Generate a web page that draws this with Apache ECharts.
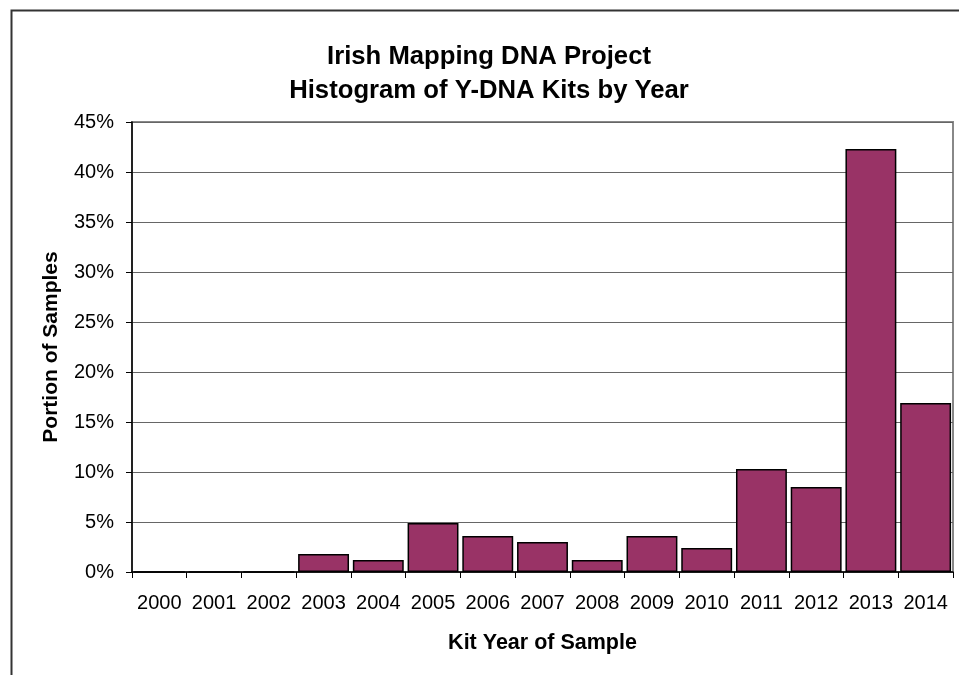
<!DOCTYPE html>
<html>
<head>
<meta charset="utf-8">
<script src="https://cdn.jsdelivr.net/npm/echarts@6/dist/echarts.min.js"></script>
<style>
  html, body { margin: 0; padding: 0; background: #fff; }
  #chart { width: 959px; height: 675px; }
</style>
</head>
<body>
<div id="chart"></div>
<script>
// Y-DNA kits per year, as a share of all samples (%)
const years = ['2000', '2001', '2002', '2003', '2004', '2005', '2006', '2007',
               '2008', '2009', '2010', '2011', '2012', '2013', '2014'];
const shares = [0, 0, 0, 1.8, 1.2, 4.9, 3.6, 3.0, 1.2, 3.6, 2.4, 10.3, 8.5, 42.3, 16.9];
const yTicks = { min: 0, max: 45, step: 5 };

const FONT = '"Liberation Sans", Arial, sans-serif';

const chart = echarts.init(document.getElementById('chart'), null, { renderer: 'canvas' });

chart.setOption({
  backgroundColor: '#ffffff',
  animation: false,
  title: {
    text: 'Irish Mapping DNA Project\nHistogram of Y-DNA Kits by Year',
    left: 484,
    top: 35,
    textAlign: 'center',
    textStyle: {
      fontFamily: FONT,
      fontSize: 25.7,
      fontWeight: 'bold',
      color: '#000',
      lineHeight: 34
    }
  },
  graphic: [{
    type: 'rect',
    shape: { x: 11.5, y: 10.5, width: 2000, height: 2000 },
    style: { fill: 'none', stroke: '#333', lineWidth: 2 },
    silent: true
  }],
  grid: {
    left: 132,
    top: 122,
    right: 6,
    bottom: 103,
    show: true,
    borderColor: '#888',
    borderWidth: 2,
    backgroundColor: 'transparent'
  },
  xAxis: {
    type: 'category',
    data: years,
    boundaryGap: true,
    name: 'Kit Year of Sample',
    nameLocation: 'middle',
    nameGap: 60,
    nameTextStyle: { fontFamily: FONT, fontSize: 21.5, fontWeight: 'bold', color: '#000' },
    axisLine: { show: true, lineStyle: { color: '#000', width: 1.5 } },
    axisTick: { show: true, alignWithLabel: false, length: 6, lineStyle: { color: '#000', width: 1 } },
    axisLabel: { fontFamily: FONT, fontSize: 20, color: '#000', margin: 21, interval: 0 },
    splitLine: { show: false }
  },
  yAxis: {
    type: 'value',
    min: yTicks.min,
    max: yTicks.max,
    interval: yTicks.step,
    name: 'Portion of Samples',
    nameLocation: 'middle',
    nameGap: 70,
    nameRotate: 90,
    nameTextStyle: { fontFamily: FONT, fontSize: 21, fontWeight: 'bold', color: '#000' },
    axisLine: { show: true, lineStyle: { color: '#000', width: 1.5 } },
    axisTick: { show: true, length: 6, lineStyle: { color: '#000', width: 1 } },
    axisLabel: { fontFamily: FONT, fontSize: 20, color: '#000', margin: 18, formatter: '{value}%' },
    splitLine: { show: true, lineStyle: { color: '#666', width: 1.2 } }
  },
  series: [{
    type: 'bar',
    data: shares,
    barCategoryGap: '7%',
    itemStyle: { color: '#993366', borderColor: '#000', borderWidth: 1.5 },
    emphasis: { disabled: true }
  }]
});
</script>
</body>
</html>
